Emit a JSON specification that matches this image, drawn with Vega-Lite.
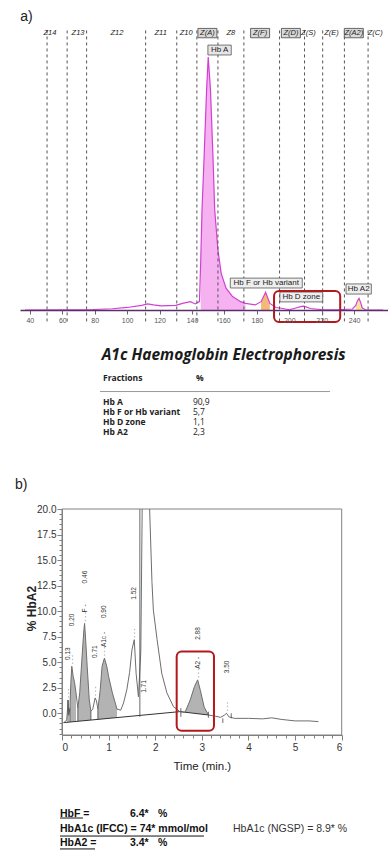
{
  "$schema": "https://vega.github.io/schema/vega-lite/v6.json",
  "background": "white",
  "padding": 0,
  "spacing": 0,
  "bounds": "flush",
  "config": {"view": {"stroke": null}, "axis": {"labelOverlap": false}},
  "datasets": {
    "traceA": [
      {"m":37,"i":0},{"m":61,"i":0.1},{"m":79,"i":0.2},{"m":91,"i":0.5},{"m":100,"i":1.0},{"m":109,"i":1.8},{"m":112.6,"i":2.4},{"m":116.2,"i":2.0},{"m":121,"i":1.6},{"m":130,"i":1.8},{"m":134.2,"i":2.6},{"m":139,"i":3.3},{"m":142,"i":2.4},{"m":144.6,"i":3.3},{"m":145.4,"i":19.8},{"m":146.2,"i":40},{"m":147.4,"i":59.3},{"m":149,"i":87},{"m":150,"i":100},{"m":151.4,"i":87},{"m":153,"i":59.3},{"m":154,"i":39.5},{"m":156,"i":23.7},{"m":158,"i":14.5},{"m":161,"i":8.6},{"m":165,"i":5.3},{"m":170,"i":3.3},{"m":173,"i":2.6},{"m":179,"i":2.0},{"m":182.6,"i":3.3},{"m":185.4,"i":7.0},{"m":188,"i":2.6},{"m":191.8,"i":1.0},{"m":195,"i":0.7},{"m":200,"i":0.1},{"m":204,"i":0.8},{"m":207,"i":1.3},{"m":209,"i":1.5},{"m":213,"i":0.6},{"m":221,"i":0.1},{"m":230,"i":0.1},{"m":239,"i":0.4},{"m":241,"i":1.8},{"m":242,"i":3.6},{"m":243,"i":4.6},{"m":244,"i":3.0},{"m":245,"i":0.8},{"m":247,"i":0.1},{"m":257.8,"i":0}
    ],
    "zones": [
      {"b":50.6},{"b":63.0},{"b":75.0},{"b":111.4},{"b":130.6},{"b":143.0},{"b":156.0},{"b":172.0},{"b":194.0},{"b":209.4},{"b":220.6},{"b":234.0},{"b":248.6}
    ],
    "zoneLabels": [
      {"zone":"Z14","center":52.4,"boxed":false},{"zone":"Z13","center":69.7,"boxed":false},{"zone":"Z12","center":93.7,"boxed":false},{"zone":"Z11","center":120.7,"boxed":false},{"zone":"Z10","center":136.4,"boxed":false},{"zone":"Z(A)","center":149.5,"boxed":true},{"zone":"Z8","center":163.9,"boxed":false},{"zone":"Z(F)","center":182,"boxed":true},{"zone":"Z(D)","center":201,"boxed":true},{"zone":"Z(S)","center":211.8,"boxed":false},{"zone":"Z(E)","center":226,"boxed":false},{"zone":"Z(A2)","center":239.8,"boxed":true},{"zone":"Z(C)","center":253,"boxed":false}
    ],
    "fractions": [
      {"row":1,"fraction":"Hb A","pct":"90,9"},
      {"row":2,"fraction":"Hb F or Hb variant","pct":"5,7"},
      {"row":3,"fraction":"Hb D zone","pct":"1,1"},
      {"row":4,"fraction":"Hb A2","pct":"2,3"}
    ],
    "traceB": [
      {"t":0.05,"v":-0.85},{"t":0.10,"v":-0.70},{"t":0.12,"v":0.5},{"t":0.13,"v":1.3},{"t":0.145,"v":-0.2},
      {"t":0.17,"v":0.5,"base":-0.86,"peak":"p1"},{"t":0.19,"v":3.0,"base":-0.85,"peak":"p1"},{"t":0.21,"v":4.6,"base":-0.84,"peak":"p1"},{"t":0.24,"v":3.6,"base":-0.83,"peak":"p1"},{"t":0.27,"v":3.0,"base":-0.81,"peak":"p1"},{"t":0.30,"v":2.0,"base":-0.80,"peak":"p1"},
      {"t":0.34,"v":0.5,"base":-0.78,"peak":"F"},{"t":0.38,"v":2.0,"base":-0.77,"peak":"F"},{"t":0.43,"v":5.5,"base":-0.74,"peak":"F"},{"t":0.47,"v":8.2,"base":-0.73,"peak":"F"},{"t":0.485,"v":8.8,"base":-0.72,"peak":"F"},{"t":0.51,"v":7.0,"base":-0.71,"peak":"F"},{"t":0.54,"v":4.6,"base":-0.70,"peak":"F"},{"t":0.585,"v":1.3,"base":-0.68,"peak":"F"},{"t":0.62,"v":0.2,"base":-0.66,"peak":"F"},
      {"t":0.66,"v":0.4},{"t":0.71,"v":1.5},{"t":0.74,"v":1.2},
      {"t":0.77,"v":0.4,"base":-0.60,"peak":"A1c"},{"t":0.82,"v":2.3,"base":-0.58,"peak":"A1c"},{"t":0.86,"v":4.6,"base":-0.56,"peak":"A1c"},{"t":0.91,"v":5.4,"base":-0.54,"peak":"A1c"},{"t":0.96,"v":4.6,"base":-0.52,"peak":"A1c"},{"t":1.00,"v":3.6,"base":-0.50,"peak":"A1c"},{"t":1.08,"v":2.0,"base":-0.46,"peak":"A1c"},{"t":1.18,"v":0.4,"base":-0.42,"peak":"A1c"},
      {"t":1.26,"v":0.3},{"t":1.32,"v":1.0},{"t":1.39,"v":2.3},{"t":1.45,"v":4.0},{"t":1.50,"v":6.2},{"t":1.55,"v":7.2},{"t":1.59,"v":3.9},{"t":1.64,"v":1.6},{"t":1.69,"v":6.0},{"t":1.72,"v":20},{"t":1.76,"v":40},{"t":1.80,"v":45},{"t":1.85,"v":32},{"t":1.88,"v":20},{"t":1.93,"v":12.8},{"t":1.96,"v":10.1},{"t":2.04,"v":7.2},{"t":2.14,"v":3.9},{"t":2.25,"v":2.0},{"t":2.39,"v":0.65},{"t":2.53,"v":0.16},
      {"t":2.64,"v":0.1,"base":0.10,"peak":"A2"},{"t":2.75,"v":1.3,"base":0.04,"peak":"A2"},{"t":2.84,"v":2.6,"base":-0.01,"peak":"A2"},{"t":2.91,"v":3.27,"base":-0.05,"peak":"A2"},{"t":2.97,"v":2.2,"base":-0.08,"peak":"A2"},{"t":3.05,"v":0.6,"base":-0.12,"peak":"A2"},{"t":3.14,"v":-0.17,"base":-0.17,"peak":"A2"},
      {"t":3.30,"v":-0.3},{"t":3.40,"v":-0.4},{"t":3.48,"v":-0.2},{"t":3.53,"v":0.0},{"t":3.58,"v":-0.35},{"t":3.70,"v":-0.5},{"t":4.0,"v":-0.5},{"t":4.3,"v":-0.55},{"t":4.5,"v":-0.45},{"t":4.7,"v":-0.6},{"t":5.0,"v":-0.75},{"t":5.3,"v":-0.75},{"t":5.5,"v":-0.82}
    ],
    "baselineB": [
      {"t":0.03,"v":-0.92},{"t":2.53,"v":0.16},{"t":3.14,"v":-0.17}
    ],
    "dropsB": [
      {"t":0.13,"top":1.3,"bot":-0.87},{"t":0.17,"top":0.5,"bot":-0.86},{"t":0.34,"top":0.5,"bot":-0.78},{"t":0.62,"top":0.2,"bot":-0.66},{"t":0.77,"top":0.4,"bot":-0.6},{"t":1.67,"top":20,"bot":-0.35},{"t":2.55,"top":0.5,"bot":-0.35},{"t":3.14,"top":0.15,"bot":-0.45},{"t":3.45,"top":-0.5,"bot":-0.95},{"t":3.63,"top":0.0,"bot":-0.5}
    ],
    "peaksB": [
      {"t":0.13,"h":1.3,"time":"0.13","name":""},
      {"t":0.21,"h":4.6,"time":"0.20","name":""},
      {"t":0.485,"h":8.8,"time":"0.46","name":"F -"},
      {"t":0.71,"h":1.5,"time":"0.71","name":""},
      {"t":0.91,"h":5.4,"time":"0.90","name":"A1c -"},
      {"t":1.55,"h":7.2,"time":"1.52","name":""},
      {"t":2.91,"h":3.27,"time":"2.88","name":"A2 -"},
      {"t":3.53,"h":0.0,"time":"3.50","name":""}
    ],
    "results": [
      {"line":1,"label":"HbF =","value":"6.4*","unit":"%"},
      {"line":2,"label":"HbA1c (IFCC) = 74* mmol/mol","note":"HbA1c (NGSP) = 8.9* %"},
      {"line":3,"label":"HbA2 =","value":"3.4*","unit":"%"}
    ]
  },
  "vconcat": [
    {
      "width": 388,
      "height": 310,
      "resolve": {"axis": {"x": "independent"}},
      "layer": [
        {
          "layer": [
            {
              "data": {"name": "traceA"},
              "transform": [{"filter": {"field": "m", "range": [145.4, 173]}}],
              "mark": {"type": "area", "color": "#f5a3ef", "opacity": 0.85},
              "encoding": {
                "x": {"field": "m", "type": "quantitative", "title": null,
                  "scale": {"domain": [37, 257.8], "range": [20, 388], "nice": false, "zero": false},
                  "axis": {"orient": "bottom", "values": [40,80,120,160,200,240], "grid": false, "zindex": 1, "labelOverlap": false,
                    "domainColor": "#5b2d6e", "domainWidth": 1.6, "tickColor": "#666", "tickSize": 4,
                    "labelColor": "#555", "labelFont": "Liberation Sans", "labelFontSize": 7, "labelPadding": 2, "title": null}},
                "y": {"field": "i", "type": "quantitative", "scale": {"domain": [0, 100], "range": [310, 57], "nice": false}, "axis": null}
              }
            },
            {
              "data": {"name": "traceA"},
              "transform": [{"filter": {"field": "m", "range": [182, 189.5]}}],
              "mark": {"type": "area", "color": "#f3b06a", "opacity": 0.9},
              "encoding": {"x": {"field": "m", "type": "quantitative"}, "y": {"field": "i", "type": "quantitative"}}
            },
            {
              "data": {"name": "traceA"},
              "transform": [{"filter": {"field": "m", "range": [240, 246]}}],
              "mark": {"type": "area", "color": "#f5e28e", "opacity": 0.9},
              "encoding": {"x": {"field": "m", "type": "quantitative"}, "y": {"field": "i", "type": "quantitative"}}
            },
            {
              "data": {"name": "traceA"},
              "mark": {"type": "line", "color": "#d33fd3", "strokeWidth": 1.2},
              "encoding": {"x": {"field": "m", "type": "quantitative"}, "y": {"field": "i", "type": "quantitative"}}
            },
            {
              "data": {"name": "zones"},
              "mark": {"type": "rule", "color": "#555", "strokeDash": [3, 3], "strokeWidth": 1},
              "encoding": {"x": {"field": "b", "type": "quantitative"}, "y": {"datum": 110.5}, "y2": {"datum": -5}}
            },
            {
              "data": {"name": "zoneLabels"},
              "transform": [{"filter": "datum.boxed"}],
              "mark": {"type": "bar", "fill": "#d9d9d9", "stroke": "#444", "strokeWidth": 0.8},
              "encoding": {"x": {"field": "center", "type": "quantitative"}, "y": {"datum": 111.3}, "y2": {"datum": 107.6}, "size": {"value": 19}}
            },
            {
              "data": {"name": "zoneLabels"},
              "mark": {"type": "text", "font": "Liberation Sans", "fontSize": 7.5, "fontStyle": "italic", "color": "#222", "baseline": "middle", "clip": true},
              "encoding": {"x": {"field": "center", "type": "quantitative"}, "y": {"datum": 109.4}, "text": {"field": "zone"}}
            },
            {
              "data": {"values": [{}]},
              "mark": {"type": "rect", "fill": "#e6e6e6", "stroke": "#555", "strokeWidth": 0.8},
              "encoding": {"x": {"datum": 149.8}, "x2": {"datum": 164.2}, "y": {"datum": 104.7}, "y2": {"datum": 100.8}}
            },
            {
              "data": {"values": [{}]},
              "mark": {"type": "text", "text": "Hb A", "font": "Liberation Sans", "fontSize": 8, "color": "#222", "baseline": "middle"},
              "encoding": {"x": {"datum": 157}, "y": {"datum": 102.8}}
            },
            {
              "data": {"values": [{}]},
              "mark": {"type": "rect", "fill": "#eeeeee", "stroke": "#555", "strokeWidth": 0.8},
              "encoding": {"x": {"datum": 163.6}, "x2": {"datum": 208}, "y": {"datum": 12.6}, "y2": {"datum": 8.7}}
            },
            {
              "data": {"values": [{}]},
              "mark": {"type": "text", "text": "Hb F or Hb variant", "font": "Liberation Sans", "fontSize": 8, "color": "#222", "baseline": "middle"},
              "encoding": {"x": {"datum": 185.8}, "y": {"datum": 10.7}}
            },
            {
              "data": {"values": [{}]},
              "mark": {"type": "rect", "fill": "#eeeeee", "stroke": "#555", "strokeWidth": 0.8},
              "encoding": {"x": {"datum": 194.2}, "x2": {"datum": 220.6}, "y": {"datum": 7.1}, "y2": {"datum": 3.2}}
            },
            {
              "data": {"values": [{}]},
              "mark": {"type": "text", "text": "Hb D zone", "font": "Liberation Sans", "fontSize": 8, "color": "#222", "baseline": "middle"},
              "encoding": {"x": {"datum": 207.4}, "y": {"datum": 5.1}}
            },
            {
              "data": {"values": [{}]},
              "mark": {"type": "rect", "fill": "#eeeeee", "stroke": "#555", "strokeWidth": 0.8},
              "encoding": {"x": {"datum": 235}, "x2": {"datum": 250.6}, "y": {"datum": 10.3}, "y2": {"datum": 6.3}}
            },
            {
              "data": {"values": [{}]},
              "mark": {"type": "text", "text": "Hb A2", "font": "Liberation Sans", "fontSize": 8, "color": "#222", "baseline": "middle"},
              "encoding": {"x": {"datum": 242.8}, "y": {"datum": 8.3}}
            },
            {
              "data": {"values": [{}]},
              "mark": {"type": "rect", "fill": "transparent", "stroke": "#b3191c", "strokeWidth": 2, "cornerRadius": 5},
              "encoding": {"x": {"datum": 190.6}, "x2": {"datum": 231.4}, "y": {"datum": 7.5}, "y2": {"datum": -4.7}}
            },
            {
              "data": {"values": [{}]},
              "mark": {"type": "text", "text": "a)", "font": "Liberation Sans", "fontSize": 14, "color": "#222", "align": "left", "baseline": "middle"},
              "encoding": {"x": {"datum": 34}, "y": {"datum": 116}}
            }
          ]
        },
        {
          "data": {"values": [{}]},
          "mark": {"type": "point", "opacity": 0},
          "encoding": {
            "x": {"datum": 60, "type": "quantitative",
              "axis": {"orient": "bottom", "values": [60,100,140,180,220], "grid": false, "zindex": 1, "domain": false,
                "tickColor": "#666", "tickSize": 4, "labelColor": "#555", "labelFont": "Liberation Sans", "labelFontSize": 7, "labelPadding": 2, "title": null}}
          }
        }
      ]
    },
    {
      "width": 388,
      "height": 199,
      "layer": [
        {
          "data": {"values": [{"t": "A1c Haemoglobin Electrophoresis"}]},
          "mark": {"type": "text", "font": "Open Sans", "fontSize": 15.5, "fontWeight": "bold", "fontStyle": "italic", "color": "#1a1a1a", "align": "left", "baseline": "middle"},
          "encoding": {
            "x": {"datum": -0.006, "type": "quantitative", "scale": {"domain": [0, 1], "range": [103, 330], "nice": false}, "axis": null},
            "y": {"datum": -3.56, "type": "quantitative", "scale": {"domain": [1, 4], "range": [91.5, 122], "nice": false, "zero": false}, "axis": null},
            "text": {"field": "t"}
          }
        },
        {
          "data": {"values": [{"c": "Fractions", "p": "%"}]},
          "mark": {"type": "text", "font": "Open Sans", "fontSize": 8.5, "fontWeight": "bold", "color": "#222", "align": "left", "baseline": "middle"},
          "encoding": {"x": {"datum": 0}, "y": {"datum": -1.33}, "text": {"field": "c"}}
        },
        {
          "data": {"values": [{"c": "Fractions", "p": "%"}]},
          "mark": {"type": "text", "font": "Open Sans", "fontSize": 8.5, "fontWeight": "bold", "color": "#222", "align": "left", "baseline": "middle"},
          "encoding": {"x": {"datum": 0.41}, "y": {"datum": -1.33}, "text": {"field": "p"}}
        },
        {
          "data": {"values": [{}]},
          "mark": {"type": "rule", "color": "#999", "strokeWidth": 1},
          "encoding": {"x": {"datum": -0.013}, "x2": {"datum": 1.0}, "y": {"datum": 0.02}}
        },
        {
          "data": {"name": "fractions"},
          "mark": {"type": "text", "font": "Open Sans", "fontSize": 8.5, "fontWeight": "bold", "color": "#222", "align": "left", "baseline": "middle"},
          "encoding": {"x": {"datum": 0}, "y": {"field": "row", "type": "quantitative"}, "text": {"field": "fraction"}}
        },
        {
          "data": {"name": "fractions"},
          "mark": {"type": "text", "font": "Open Sans", "fontSize": 8.5, "color": "#222", "align": "left", "baseline": "middle"},
          "encoding": {"x": {"datum": 0.396}, "y": {"field": "row", "type": "quantitative"}, "text": {"field": "pct"}}
        }
      ]
    },
    {
      "width": 388,
      "height": 226,
      "resolve": {"axis": {"x": "independent", "y": "independent"}},
      "layer": [
        {
          "layer": [
            {
              "data": {"name": "traceB"},
              "transform": [{"filter": "isValid(datum.base)"}],
              "mark": {"type": "area", "color": "#b3b3b3"},
              "encoding": {
                "x": {"field": "t", "type": "quantitative",
                  "scale": {"domain": [0, 6], "range": [62, 341.7], "nice": false, "zero": false},
                  "axis": {"orient": "bottom", "values": [0,1,2,3,4,5,6], "format": "d",
                    "labelOverlap": false, "grid": false, "tickSize": 5, "domainColor": "#808080", "tickColor": "#808080",
                    "labelColor": "#333", "labelFont": "Liberation Sans Narrow, Liberation Sans", "labelFontSize": 10, "labelPadding": 2,
                    "title": "Time (min.)", "titleFont": "Liberation Sans Narrow, Liberation Sans", "titleFontSize": 11.5, "titleFontWeight": "normal", "titleColor": "#222",
                    "titleY": 31, "titleBaseline": "middle"}},
                "y": {"field": "v", "type": "quantitative",
                  "scale": {"domain": [-2.13, 20], "nice": false, "zero": false},
                  "axis": {"orient": "left", "offset": -62, "values": [0,5,10,15,20], "format": ".1f",
                    "labelOverlap": false, "grid": false, "tickSize": 5, "domainColor": "#808080", "tickColor": "#808080",
                    "labelColor": "#333", "labelFont": "Liberation Sans Narrow, Liberation Sans", "labelFontSize": 10, "labelPadding": 1,
                    "title": "% HbA2", "titleFont": "Liberation Sans", "titleFontSize": 12, "titleFontWeight": "bold", "titleColor": "#222",
                    "titleX": -31, "titleY": 99, "titleAngle": 270, "titleAlign": "center", "titleBaseline": "middle"}},
                "y2": {"field": "base"},
                "detail": {"field": "peak"}
              }
            },
            {
              "data": {"name": "baselineB"},
              "mark": {"type": "line", "color": "#333", "strokeWidth": 1},
              "encoding": {"x": {"field": "t", "type": "quantitative"}, "y": {"field": "v", "type": "quantitative"}}
            },
            {
              "data": {"name": "traceB"},
              "mark": {"type": "line", "color": "#6e6e6e", "strokeWidth": 1, "clip": true},
              "encoding": {"x": {"field": "t", "type": "quantitative"}, "y": {"field": "v", "type": "quantitative"}}
            },
            {
              "data": {"name": "dropsB"},
              "mark": {"type": "rule", "color": "#444", "strokeWidth": 0.8},
              "encoding": {"x": {"field": "t", "type": "quantitative"}, "y": {"field": "top", "type": "quantitative"}, "y2": {"field": "bot"}}
            },
            {
              "data": {"values": [{}]},
              "mark": {"type": "rect", "fill": "transparent", "stroke": "#808080", "strokeWidth": 1},
              "encoding": {"x": {"datum": 0}, "x2": {"datum": 6}, "y": {"datum": -2.13}, "y2": {"datum": 20}}
            },
            {
              "data": {"name": "peaksB"},
              "mark": {"type": "text", "text": "- - -", "angle": 270, "align": "left", "baseline": "middle", "dx": 2, "font": "Liberation Sans", "fontSize": 6, "color": "#555"},
              "encoding": {"x": {"field": "t", "type": "quantitative"}, "y": {"field": "h", "type": "quantitative"}}
            },
            {
              "data": {"name": "peaksB"},
              "transform": [{"filter": "datum.name != ''"}],
              "mark": {"type": "text", "angle": 270, "align": "left", "baseline": "middle", "dx": 11, "font": "Liberation Sans", "fontSize": 6.5, "color": "#333"},
              "encoding": {"x": {"field": "t", "type": "quantitative"}, "y": {"field": "h", "type": "quantitative"}, "text": {"field": "name"}}
            },
            {
              "data": {"name": "peaksB"},
              "mark": {"type": "text", "angle": 270, "align": "left", "baseline": "middle", "dx": 40, "font": "Liberation Sans", "fontSize": 6.5, "color": "#333"},
              "encoding": {"x": {"field": "t", "type": "quantitative"}, "y": {"field": "h", "type": "quantitative"}, "text": {"field": "time"}}
            },
            {
              "data": {"values": [{}]},
              "mark": {"type": "text", "text": "1.71", "angle": 270, "align": "left", "baseline": "middle", "font": "Liberation Sans", "fontSize": 6.5, "color": "#333"},
              "encoding": {"x": {"datum": 1.75}, "y": {"datum": 2.0}}
            },
            {
              "data": {"values": [{}]},
              "mark": {"type": "rect", "fill": "transparent", "stroke": "#b3191c", "strokeWidth": 2, "cornerRadius": 5},
              "encoding": {"x": {"datum": 2.46}, "x2": {"datum": 3.26}, "y": {"datum": 6.04}, "y2": {"datum": -1.71}}
            },
            {
              "data": {"values": [{}]},
              "mark": {"type": "text", "text": "b)", "font": "Liberation Sans", "fontSize": 14, "color": "#222", "align": "left", "baseline": "middle"},
              "encoding": {"x": {"datum": -1.01}, "y": {"datum": 22.35}}
            }
          ]
        },
        {
          "data": {"values": [{}]},
          "mark": {"type": "point", "opacity": 0},
          "encoding": {
            "x": {"datum": 0, "type": "quantitative",
              "axis": {"orient": "bottom", "values": [0,0.2,0.4,0.6,0.8,1,1.2,1.4,1.6,1.8,2,2.2,2.4,2.6,2.8,3,3.2,3.4,3.6,3.8,4,4.2,4.4,4.6,4.8,5,5.2,5.4,5.6,5.8,6],
                "labels": false, "domain": false, "grid": false, "tickSize": 3, "tickColor": "#808080", "title": null}},
            "y": {"datum": 0, "type": "quantitative",
              "axis": {"orient": "left", "offset": -62, "values": [-2,-1.5,-1,-0.5,0,0.5,1,1.5,2,2.5,3,3.5,4,4.5,5,5.5,6,6.5,7,7.5,8,8.5,9,9.5,10,10.5,11,11.5,12,12.5,13,13.5,14,14.5,15,15.5,16,16.5,17,17.5,18,18.5,19,19.5,20],
                "labels": false, "domain": false, "grid": false, "tickSize": 3, "tickColor": "#808080", "title": null}}
          }
        },
        {
          "data": {"values": [{}]},
          "mark": {"type": "point", "opacity": 0},
          "encoding": {
            "y": {"datum": 2.5, "type": "quantitative",
              "axis": {"orient": "left", "offset": -62, "values": [2.5,7.5,12.5,17.5], "format": ".1f",
                "domain": false, "grid": false, "tickSize": 5, "tickColor": "#808080",
                "labelColor": "#333", "labelFont": "Liberation Sans Narrow, Liberation Sans", "labelFontSize": 10, "labelPadding": 1, "title": null}}
          }
        }
      ]
    },
    {
      "width": 388,
      "height": 115,
      "layer": [
        {
          "data": {"name": "results"},
          "mark": {"type": "text", "font": "Liberation Sans", "fontSize": 10.5, "fontWeight": "bold", "color": "#111", "align": "left", "baseline": "middle"},
          "encoding": {
            "x": {"datum": 0, "type": "quantitative", "scale": {"domain": [0, 1], "range": [60, 340], "nice": false}, "axis": null},
            "y": {"field": "line", "type": "quantitative", "scale": {"domain": [1, 3], "range": [79, 108], "nice": false, "zero": false}, "axis": null},
            "text": {"field": "label"}
          }
        },
        {
          "data": {"name": "results"},
          "transform": [{"filter": "isValid(datum.value)"}],
          "mark": {"type": "text", "font": "Liberation Sans", "fontSize": 10.5, "fontWeight": "bold", "color": "#111", "align": "left", "baseline": "middle"},
          "encoding": {"x": {"datum": 0.25}, "y": {"field": "line", "type": "quantitative"}, "text": {"field": "value"}}
        },
        {
          "data": {"name": "results"},
          "transform": [{"filter": "isValid(datum.unit)"}],
          "mark": {"type": "text", "font": "Liberation Sans", "fontSize": 10.5, "fontWeight": "bold", "color": "#111", "align": "left", "baseline": "middle"},
          "encoding": {"x": {"datum": 0.35}, "y": {"field": "line", "type": "quantitative"}, "text": {"field": "unit"}}
        },
        {
          "data": {"name": "results"},
          "transform": [{"filter": "isValid(datum.note)"}],
          "mark": {"type": "text", "font": "Liberation Sans", "fontSize": 10.5, "color": "#333", "align": "left", "baseline": "middle"},
          "encoding": {"x": {"datum": 0.618}, "y": {"field": "line", "type": "quantitative"}, "text": {"field": "note"}}
        },
        {
          "data": {"values": [{}]},
          "mark": {"type": "rule", "color": "#111", "strokeWidth": 1},
          "encoding": {"x": {"datum": 0}, "x2": {"datum": 0.082}, "y": {"datum": 1.276}}
        },
        {
          "data": {"values": [{}]},
          "mark": {"type": "rule", "color": "#111", "strokeWidth": 1},
          "encoding": {"x": {"datum": 0}, "x2": {"datum": 0.514}, "y": {"datum": 2.52}}
        },
        {
          "data": {"values": [{}]},
          "mark": {"type": "rule", "color": "#111", "strokeWidth": 1},
          "encoding": {"x": {"datum": 0}, "x2": {"datum": 0.125}, "y": {"datum": 3.41}}
        }
      ]
    }
  ]
}
